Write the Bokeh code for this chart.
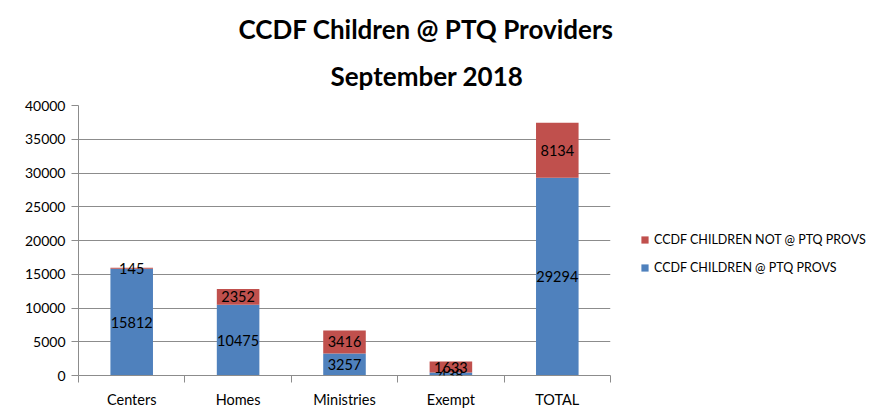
import numpy as np
from bokeh.plotting import figure
from bokeh.models import (ColumnDataSource, FixedTicker, Range1d, Legend, LegendItem,
                          Title, LabelSet)
from bokeh.core.properties import value
from bokeh.embed import file_html
from bokeh.resources import INLINE

categories = ["Centers", "Homes", "Ministries", "Exempt", "TOTAL"]
at_ptq = [15812, 10475, 3257, 438, 29294]
not_at_ptq = [145, 2352, 3416, 1633, 8134]
y_ticks = [0, 5000, 10000, 15000, 20000, 25000, 30000, 35000, 40000]
title_lines = ["CCDF Children @ PTQ Providers", "September 2018"]
series_names = ["CCDF CHILDREN @ PTQ PROVS", "CCDF CHILDREN NOT @ PTQ PROVS"]

BLUE = "#4F81BD"
RED = "#C0504D"
GRID = "#8C8C8C"
FONT = "Lato"

x = np.arange(len(categories)) + 0.5
a = np.array(at_ptq, dtype=float)
b = np.array(not_at_ptq, dtype=float)
src = ColumnDataSource(dict(
    x=x, a=a, b=b,
    a_mid=a / 2, b_mid=a + b / 2,
    a_lbl=[str(v) for v in at_ptq], b_lbl=[str(v) for v in not_at_ptq],
))

p = figure(frame_width=532, frame_height=270, output_backend="svg", toolbar_location=None,
           x_range=Range1d(0, len(categories)), y_range=Range1d(0, 40000),
           min_border_left=78, min_border_right=262, min_border_top=105, min_border_bottom=33)
p.outline_line_color = None
p.background_fill_color = "white"
p.border_fill_color = "white"

r = p.vbar_stack(["a", "b"], x="x", width=0.4, color=[BLUE, RED], source=src,
                 line_color=None)

# axes
p.yaxis.ticker = FixedTicker(ticks=y_ticks)
p.yaxis.axis_line_color = GRID
p.yaxis.major_tick_line_color = GRID
p.yaxis.major_tick_in = 0
p.yaxis.major_tick_out = 7
p.yaxis.minor_tick_line_color = None
p.yaxis.major_label_text_font = FONT
p.yaxis.major_label_text_font_size = "14px"
p.yaxis.major_label_text_color = "black"
p.yaxis.major_label_standoff = 6

p.xaxis.ticker = FixedTicker(ticks=list(x), minor_ticks=list(np.arange(len(categories) + 1)))
p.xaxis.major_label_overrides = {float(xx): c for xx, c in zip(x, categories)}
p.xaxis.axis_line_color = GRID
p.xaxis.major_tick_line_color = None
p.xaxis.minor_tick_line_color = GRID
p.xaxis.minor_tick_in = 0
p.xaxis.minor_tick_out = 7
p.xaxis.major_label_text_font = FONT
p.xaxis.major_label_text_font_size = "14.5px"
p.xaxis.major_label_text_color = "black"
p.xaxis.major_label_standoff = 8

p.xgrid.grid_line_color = None
p.ygrid.ticker = FixedTicker(ticks=y_ticks)
p.ygrid.grid_line_color = GRID
p.ygrid.grid_line_width = 1

# data labels
for col, mid in (("a_lbl", "a_mid"), ("b_lbl", "b_mid")):
    p.add_layout(LabelSet(x="x", y=mid, text=col, source=src, text_align="center",
                          text_baseline="middle", text_font=value(FONT),
                          text_font_size=value("14.5px"), text_color="black"))

# title (second line first: later titles stack further from the frame)
for t, off, sd, lh in ((title_lines[1], 252, 27, 0.75), (title_lines[0], 160, 0, 1.0)):
    p.add_layout(Title(text=t, align="left", offset=off, standoff=sd, text_line_height=lh,
                       text_font=FONT, text_font_style="bold", text_font_size="26px",
                       text_color="black"), "above")

legend = Legend(items=[LegendItem(label=series_names[1], renderers=[r[1]]),
                       LegendItem(label=series_names[0], renderers=[r[0]])],
                location=(30, 100), orientation="vertical")
legend.margin = 0
legend.padding = 0
legend.glyph_width = 9
legend.glyph_height = 9
legend.label_standoff = 5
legend.spacing = 13
legend.label_text_font = FONT
legend.label_text_font_size = "12.5px"
legend.label_text_color = "black"
legend.border_line_color = None
legend.background_fill_alpha = 0
p.add_layout(legend, "right")

open("out.html", "w").write(file_html(p, INLINE))
